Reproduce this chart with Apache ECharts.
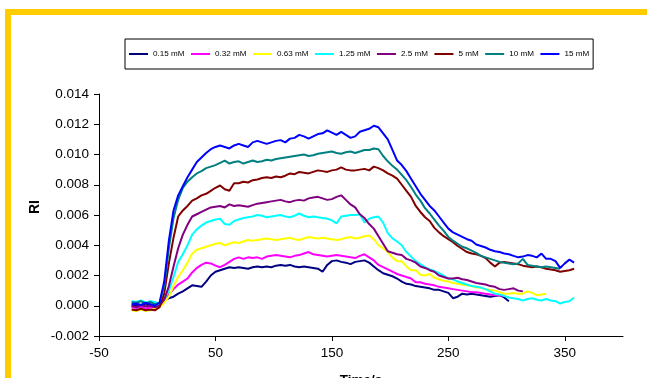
<!DOCTYPE html>
<html>
<head>
<meta charset="utf-8">
<script src="https://cdn.jsdelivr.net/npm/echarts@6/dist/echarts.min.js"></script>
<style>
  html, body { margin: 0; padding: 0; background: #fff; }
  #chart { width: 647px; height: 378px; }
</style>
</head>
<body>
<div id="chart"></div>
<script>
// ---- data (values in units of 0.001 RI) ----
const time = [-22,-18,-14,-10,-6,-2,2,6,10,14,18,22,26,30,34,38,42,46,50,54,58,62,66,70,74,78,82,86,90,94,98,102,106,110,114,118,122,126,130,134,138,142,146,150,154,158,162,166,170,174,178,182,186,190,194,198,202,206,210,214,218,222,226,230,234,238,242,246,250,254,258,262,266,270,274,278,282,286,290,294,298,302,306,310,314,318,322,326,330,334,338,342,346,350,354,358];
const seriesNames = ['0.15 mM','0.32 mM','0.63 mM','1.25 mM','2.5 mM','5 mM','10 mM','15 mM'];
const c015 = [0.0,0.05,-0.05,0.1,0.0,0.05,0.2,0.4,0.5,0.6,0.8,0.95,1.15,1.35,1.3,1.25,1.6,2.0,2.25,2.35,2.45,2.55,2.5,2.55,2.5,2.45,2.55,2.6,2.55,2.6,2.55,2.65,2.7,2.65,2.7,2.6,2.55,2.6,2.55,2.5,2.45,2.25,2.7,2.95,3.0,2.9,2.85,2.75,2.9,2.95,3.0,2.85,2.6,2.35,2.15,2.05,1.95,1.8,1.6,1.45,1.4,1.3,1.25,1.2,1.15,1.05,1.05,0.95,0.85,0.5,0.6,0.8,0.75,0.8,0.75,0.7,0.65,0.6,0.65,0.7,0.55,0.3];
const c032 = [-0.1,-0.15,-0.05,-0.2,-0.1,-0.15,0.0,0.3,0.75,1.1,1.4,1.6,1.8,2.2,2.5,2.7,2.85,2.8,2.65,2.55,2.7,2.9,3.1,3.2,3.1,3.2,3.15,3.2,3.1,3.25,3.3,3.35,3.3,3.25,3.2,3.3,3.35,3.45,3.55,3.4,3.35,3.3,3.25,3.3,3.35,3.3,3.25,3.2,3.15,3.3,3.4,3.2,3.0,2.7,2.55,2.4,2.25,2.1,2.0,1.9,1.8,1.55,1.55,1.45,1.4,1.35,1.25,1.2,1.15,1.1,1.05,1.0,0.95,0.9,0.9,0.85,0.8,0.75,0.7,0.7,0.65];
const c063 = [-0.3,-0.35,-0.25,-0.35,-0.3,-0.2,-0.1,0.2,0.6,1.3,1.9,2.35,2.85,3.45,3.7,3.8,3.9,4.0,4.1,4.15,4.0,4.1,4.2,4.15,4.25,4.35,4.3,4.35,4.4,4.45,4.4,4.35,4.4,4.45,4.5,4.4,4.35,4.45,4.55,4.5,4.45,4.5,4.45,4.4,4.35,4.4,4.5,4.55,4.45,4.5,4.6,4.65,4.4,4.0,3.8,3.55,3.2,2.95,2.95,2.6,2.35,2.35,2.05,2.0,2.1,1.85,1.75,1.65,1.6,1.5,1.45,1.4,1.35,1.3,1.2,1.2,1.1,1.05,1.0,0.9,0.8,0.8,0.85,0.8,0.8,0.95,0.85,0.7,0.75,0.8];
const c125 = [0.3,0.25,0.35,0.2,0.3,0.25,0.1,0.4,1.0,1.9,2.9,3.4,4.0,4.7,5.05,5.3,5.5,5.6,5.7,5.75,5.4,5.35,5.6,5.7,5.8,5.85,5.9,6.0,5.95,5.85,5.9,5.95,6.0,5.9,5.85,5.95,6.1,5.95,5.85,5.9,5.85,5.8,5.75,5.65,5.45,5.9,5.95,6.0,6.0,6.05,5.5,5.75,5.85,5.9,5.5,4.8,4.45,4.25,4.0,3.55,3.25,2.95,2.75,2.55,2.4,2.3,2.15,2.0,1.8,1.75,1.6,1.5,1.4,1.3,1.25,1.2,1.1,0.95,0.8,0.75,0.65,0.55,0.5,0.45,0.35,0.45,0.5,0.4,0.35,0.45,0.35,0.3,0.15,0.25,0.3,0.55];
const c250 = [0.0,-0.1,0.05,-0.05,0.0,-0.1,0.0,0.4,1.3,2.6,3.8,4.7,5.35,5.9,6.05,6.2,6.35,6.5,6.55,6.6,6.5,6.7,6.6,6.65,6.6,6.55,6.65,6.75,6.8,6.85,6.9,6.95,7.0,6.9,6.85,6.95,7.0,6.95,7.1,7.15,7.2,7.1,7.0,7.05,7.2,7.3,7.0,6.7,6.5,6.05,5.8,5.4,5.1,4.6,4.1,3.6,3.5,3.4,3.35,3.1,3.0,2.85,2.6,2.5,2.35,2.25,2.0,1.9,1.8,1.8,1.85,1.75,1.7,1.6,1.5,1.45,1.4,1.3,1.25,1.1,1.05,1.1,1.15,1.0,0.95];
const c500 = [-0.25,-0.3,-0.2,-0.3,-0.25,-0.3,-0.1,0.8,2.8,4.5,5.9,6.3,6.6,6.95,7.1,7.3,7.4,7.6,7.8,7.95,7.7,7.6,8.1,8.1,8.2,8.15,8.3,8.35,8.45,8.5,8.45,8.55,8.5,8.6,8.75,8.7,8.85,8.8,8.75,8.85,8.95,8.9,8.85,8.95,9.0,9.15,9.0,8.95,8.95,9.0,9.05,8.95,9.2,9.1,8.95,8.75,8.6,8.4,8.0,7.6,7.2,6.6,6.2,5.85,5.6,5.15,4.85,4.6,4.4,4.2,3.95,3.75,3.55,3.45,3.4,3.3,3.15,2.85,2.6,2.85,2.9,2.85,2.8,2.75,2.65,2.6,2.55,2.6,2.55,2.45,2.4,2.35,2.25,2.3,2.35,2.45];
const c1000 = [0.25,0.2,0.3,0.15,0.25,0.1,0.2,1.3,3.8,5.8,7.0,7.8,8.2,8.5,8.75,8.9,9.1,9.2,9.3,9.45,9.6,9.4,9.5,9.55,9.4,9.5,9.6,9.5,9.55,9.65,9.6,9.7,9.75,9.8,9.85,9.9,9.95,10.0,9.9,9.95,10.05,10.1,10.15,10.2,10.1,10.05,10.15,10.2,10.1,10.2,10.3,10.3,10.4,10.35,9.9,9.55,9.25,9.0,8.65,8.3,7.85,7.35,6.95,6.45,6.1,5.7,5.3,4.95,4.55,4.3,4.1,3.9,3.8,3.65,3.5,3.3,3.2,3.1,3.0,2.9,2.85,2.8,2.75,2.8,3.1,2.7,2.65,2.6,2.55,2.6,2.55,2.5,2.45];
const c1500 = [0.1,0.15,0.05,0.2,0.1,0.0,0.2,1.6,4.3,6.3,7.3,7.9,8.5,9.0,9.5,9.8,10.1,10.35,10.5,10.6,10.5,10.4,10.6,10.7,10.6,10.5,10.8,10.9,10.8,10.7,10.8,10.9,10.95,10.8,11.05,11.1,11.3,11.2,11.05,11.2,11.35,11.4,11.6,11.45,11.3,11.5,11.3,11.1,11.2,11.5,11.6,11.7,11.9,11.8,11.4,11.0,10.3,9.6,9.3,8.9,8.4,7.9,7.4,7.0,6.6,6.3,5.9,5.5,5.1,4.85,4.7,4.55,4.4,4.3,4.05,3.95,3.85,3.7,3.6,3.55,3.45,3.4,3.3,3.2,3.25,3.35,3.3,3.2,3.45,3.1,3.1,2.95,2.5,2.8,3.05,2.85];
const seriesValues = [c015, c032, c063, c125, c250, c500, c1000, c1500];
const seriesColors = ['#000080','#FF00FF','#FFFF00','#00FFFF','#800080','#800000','#008080','#0000FF'];
const SCALE = 0.001;

// ---- axes ----
const xMin = -50, xMax = 400;
const xTickValues = [-50, 50, 150, 250, 350];
const yMin = -0.002, yMax = 0.014, yStep = 0.002;

const chart = echarts.init(document.getElementById('chart'), null, { renderer: 'canvas' });
const FONT = '"Liberation Sans", Arial, sans-serif';

chart.setOption({
  animation: false,
  backgroundColor: '#ffffff',
  grid: { left: 99, right: 24, top: 94, bottom: 42, containLabel: false },
  legend: {
    show: true,
    left: 125, top: 39,
    orient: 'horizontal',
    padding: [11, 4, 11, 4],
    icon: 'rect',
    itemWidth: 19, itemHeight: 2, itemGap: 6.5,
    borderColor: '#000', borderWidth: 1,
    backgroundColor: '#fff',
    textStyle: { fontFamily: FONT, fontSize: 8.1, color: '#000' },
    data: seriesNames
  },
  xAxis: {
    type: 'value', min: xMin, max: xMax,
    axisLine: { show: true, onZero: false, lineStyle: { color: '#000', width: 1 } },
    axisTick: { show: true, length: 5, customValues: xTickValues, lineStyle: { color: '#000' } },
    axisLabel: { customValues: xTickValues, margin: 10, fontFamily: FONT, fontSize: 13.5, color: '#000' },
    splitLine: { show: false }
  },
  yAxis: {
    type: 'value', min: yMin, max: yMax, interval: yStep,
    axisLine: { show: true, onZero: false, lineStyle: { color: '#000', width: 1 } },
    axisTick: { show: true, length: 5, lineStyle: { color: '#000' } },
    axisLabel: { margin: 10, fontFamily: FONT, fontSize: 13.5, color: '#000',
      formatter: v => v.toFixed(3) },
    splitLine: { show: false }
  },
  graphic: [
    { type: 'rect', silent: true, z: 100,
      shape: { x: 8, y: 12, width: 720, height: 420 },
      style: { fill: 'none', stroke: '#FFCC00', lineWidth: 6 } },
    { type: 'text', silent: true, x: 35, y: 207, rotation: Math.PI / 2,
      style: { text: 'RI', fontFamily: FONT, fontSize: 14, fontWeight: 'bold', fill: '#000',
        align: 'center', verticalAlign: 'middle' } },
    { type: 'text', silent: true, x: 361, y: 380,
      style: { text: 'Time/s', fontFamily: FONT, fontSize: 13.5, fontWeight: 'bold', fill: '#000',
        align: 'center', verticalAlign: 'middle' } }
  ],
  series: seriesNames.map((name, k) => ({
    name,
    type: 'line',
    showSymbol: false,
    symbol: 'none',
    color: seriesColors[k],
    lineStyle: { width: 2, color: seriesColors[k] },
    data: seriesValues[k].map((v, i) => [time[i], v * SCALE])
  }))
});
</script>
</body>
</html>
